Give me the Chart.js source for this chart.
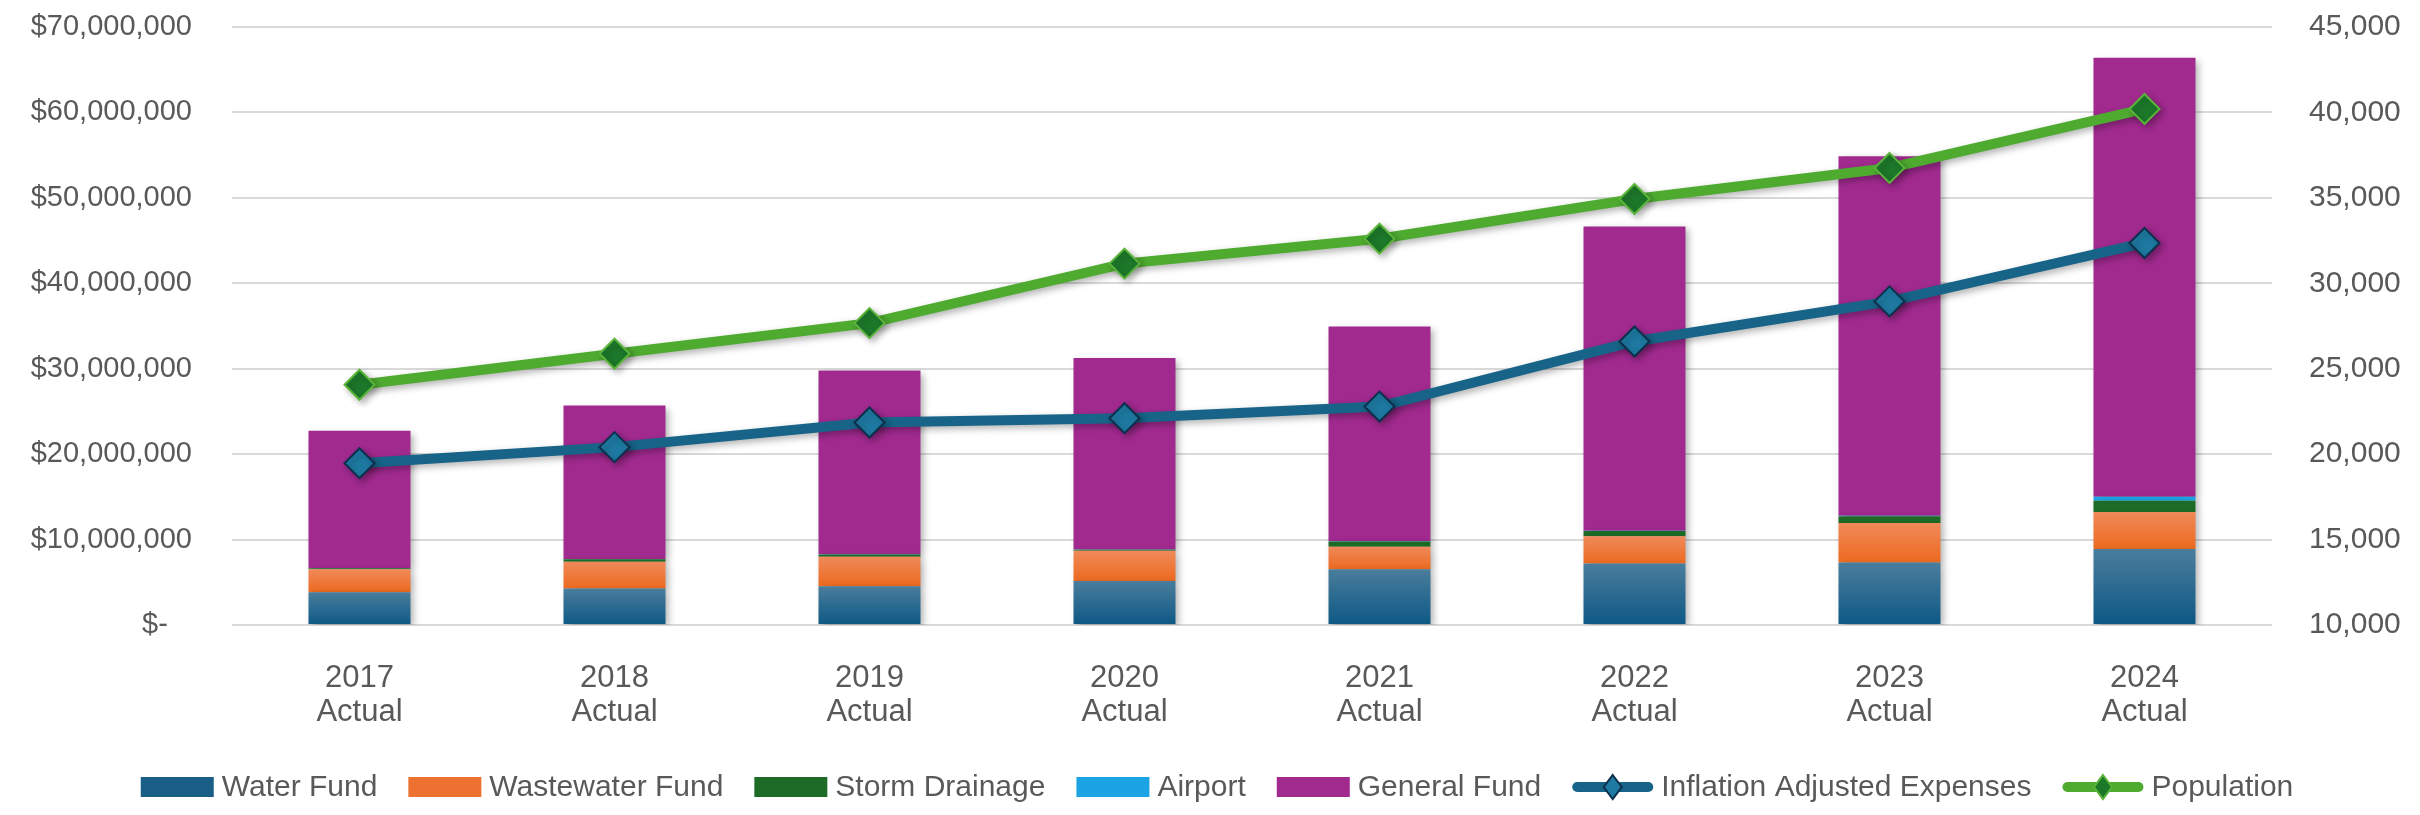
<!DOCTYPE html>
<html>
<head>
<meta charset="utf-8">
<script src="https://cdn.jsdelivr.net/npm/chart.js@4.4.1/dist/chart.umd.min.js"></script>
<style>
html,body{margin:0;padding:0;background:#ffffff;}
#wrap{width:2420px;height:815px;position:relative;}
canvas{display:block;}
</style>
</head>
<body>
<div id="wrap"><canvas id="c" width="2420" height="815"></canvas></div>
<script>
// ---------- data ----------
const categories = [['2017','Actual'],['2018','Actual'],['2019','Actual'],['2020','Actual'],['2021','Actual'],['2022','Actual'],['2023','Actual'],['2024','Actual']];
const waterFund      = [3830000, 4270000, 4550000, 5140000, 6520000, 7190000, 7310000, 8890000];
const wastewaterFund = [2690000, 3120000, 3440000, 3560000, 2650000, 3200000, 4620000, 4350000];
const stormDrainage  = [120000, 300000, 250000, 120000, 600000, 600000, 790000, 1300000];
const airport        = [20000, 30000, 30000, 30000, 50000, 50000, 80000, 470000];
const generalFund    = [16070000, 17970000, 21520000, 22390000, 25130000, 35620000, 42060000, 51380000];
const inflationAdjustedExpenses = [18940000, 20820000, 23700000, 24210000, 25570000, 33190000, 37880000, 44720000];
const population     = [24060, 25875, 27670, 31150, 32610, 34935, 36750, 40205];
const leftAxisRange  = [0, 70000000, 10000000];
const rightAxisRange = [10000, 45000, 5000];

// ---------- styling ----------
const FONT = '"Liberation Sans", Arial, sans-serif';
const TEXT = '#595959';
Chart.defaults.font.family = FONT;
Chart.defaults.color = TEXT;

function gradientFill(topColor, bottomColor, lowerSeries, series) {
  return (context) => {
    const chart = context.chart;
    const {ctx, chartArea, scales} = chart;
    if (!chartArea || context.type !== 'data' || !scales.y) return bottomColor;
    const i = context.dataIndex;
    let base = 0;
    lowerSeries.forEach(a => { base += a[i]; });
    const yb = scales.y.getPixelForValue(base);
    const yt = scales.y.getPixelForValue(base + series[i]);
    if (!isFinite(yb) || !isFinite(yt) || yb === yt) return bottomColor;
    const g = ctx.createLinearGradient(0, yt, 0, yb);
    g.addColorStop(0, topColor);
    g.addColorStop(1, bottomColor);
    return g;
  };
}

const shadowPlugin = {
  id: 'shadow',
  beforeDatasetDraw(chart) {
    const ctx = chart.ctx;
    ctx.save();
    ctx.shadowColor = 'rgba(0,0,0,0.30)';
    ctx.shadowBlur = 7;
    ctx.shadowOffsetX = 3;
    ctx.shadowOffsetY = 3;
  },
  afterDatasetDraw(chart) {
    chart.ctx.restore();
  }
};

function drawDiamond(ctx, x, y, r, fill, stroke, lw) {
  ctx.beginPath();
  ctx.moveTo(x, y - r);
  ctx.lineTo(x + r * 0.75, y);
  ctx.lineTo(x, y + r);
  ctx.lineTo(x - r * 0.75, y);
  ctx.closePath();
  ctx.fillStyle = fill;
  ctx.fill();
  ctx.lineWidth = lw;
  ctx.strokeStyle = stroke;
  ctx.stroke();
}

const legendPlugin = {
  id: 'customLegend',
  afterDraw(chart) {
    const ctx = chart.ctx;
    ctx.save();
    ctx.font = '30px ' + FONT;
    ctx.textBaseline = 'middle';
    ctx.textAlign = 'left';
    const items = chart.data.datasets.map(ds => ({ds, text: ds.label, isLine: ds.type === 'line'}));
    const swBar = 73, swLine = 81, gapSw = 8, gapItem = 31;
    let total = 0;
    items.forEach(it => {
      it.w = ctx.measureText(it.text).width;
      it.sw = it.isLine ? swLine : swBar;
      total += it.sw + gapSw + it.w;
    });
    total += gapItem * (items.length - 1);
    let x = chart.width / 2 + 7 - total / 2;
    const y = 787;
    items.forEach(it => {
      const ds = it.ds;
      if (it.isLine) {
        ctx.beginPath();
        ctx.lineCap = 'round';
        ctx.lineWidth = 10;
        ctx.strokeStyle = ds.borderColor;
        ctx.moveTo(x + 5, y);
        ctx.lineTo(x + it.sw - 5, y);
        ctx.stroke();
        drawDiamond(ctx, x + it.sw / 2, y, 12, ds.pointBackgroundColor, ds.pointBorderColor, 2);
      } else {
        ctx.fillStyle = ds.legendColor;
        ctx.fillRect(x, y - 10, it.sw, 20);
      }
      x += it.sw + gapSw;
      ctx.fillStyle = TEXT;
      ctx.fillText(it.text, x, y + 1);
      x += it.w + gapItem;
    });
    ctx.restore();
  }
};

const ctx = document.getElementById('c').getContext('2d');
new Chart(ctx, {
  data: {
    labels: categories,
    datasets: [
      {type:'bar', label:'Water Fund', data: waterFund, yAxisID:'y', stack:'funds', order:1,
       backgroundColor: gradientFill('#4a7d9c', '#0d5885', [], waterFund), legendColor:'#195e86'},
      {type:'bar', label:'Wastewater Fund', data: wastewaterFund, yAxisID:'y', stack:'funds', order:1,
       backgroundColor: gradientFill('#f0895a', '#ec6a1f', [waterFund], wastewaterFund), legendColor:'#ed7130'},
      {type:'bar', label:'Storm Drainage', data: stormDrainage, yAxisID:'y', stack:'funds', order:1,
       backgroundColor:'#1d6b27', legendColor:'#1d6b27'},
      {type:'bar', label:'Airport', data: airport, yAxisID:'y', stack:'funds', order:1,
       backgroundColor:'#1ba3e3', legendColor:'#1ba3e3'},
      {type:'bar', label:'General Fund', data: generalFund, yAxisID:'y', stack:'funds', order:1,
       backgroundColor:'#a12a8f', legendColor:'#a12a8f'},
      {type:'line', label:'Inflation Adjusted Expenses', data: inflationAdjustedExpenses, yAxisID:'y', stack:'inflation', order:0,
       borderColor:'#176488', borderWidth:10, pointStyle:'rectRot', pointRadius:15, pointHoverRadius:15,
       pointBackgroundColor:'#1e7aa2', pointBorderColor:'#0c2f4c', pointBorderWidth:2, tension:0, fill:false},
      {type:'line', label:'Population', data: population, yAxisID:'y1', order:0,
       borderColor:'#4eab30', borderWidth:10, pointStyle:'rectRot', pointRadius:15, pointHoverRadius:15,
       pointBackgroundColor:'#1d792a', pointBorderColor:'#5bb53a', pointBorderWidth:2, tension:0, fill:false}
    ]
  },
  options: {
    responsive:false,
    animation:false,
    layout:{padding:{top:27, right:0, bottom:0, left:0}},
    plugins:{legend:{display:false}, tooltip:{enabled:false}},
    datasets:{bar:{categoryPercentage:1.0, barPercentage:0.40, borderWidth:0}},
    scales:{
      x:{
        stacked:true,
        grid:{display:false, drawTicks:false},
        border:{display:false},
        ticks:{color:TEXT, font:{size:31, family:FONT, lineHeight:1.1}, padding:36, maxRotation:0, autoSkip:false},
        afterFit(scale){ scale.height = 190; scale.paddingLeft = 0; scale.paddingRight = 0; }
      },
      y:{
        position:'left',
        stacked:true,
        min:leftAxisRange[0], max:leftAxisRange[1],
        grid:{color:'#d9d9d9', lineWidth:2, drawTicks:false},
        border:{display:false},
        ticks:{stepSize:leftAxisRange[2], color:TEXT, font:{size:29, family:FONT}, padding:40,
          callback:(v)=> v === 0 ? '$-   ' : '$' + Number(v).toLocaleString('en-US')},
        afterFit(scale){ scale.width = 232; scale.paddingTop = 0; scale.paddingBottom = 0; }
      },
      y1:{
        position:'right',
        min:rightAxisRange[0], max:rightAxisRange[1],
        grid:{display:false, drawTicks:false},
        border:{display:false},
        ticks:{stepSize:rightAxisRange[2], color:TEXT, font:{size:30, family:FONT}, padding:37,
          callback:(v)=> Number(v).toLocaleString('en-US')},
        afterFit(scale){ scale.width = 148; scale.paddingTop = 0; scale.paddingBottom = 0; }
      }
    }
  },
  plugins:[shadowPlugin, legendPlugin]
});
</script>
</body>
</html>
